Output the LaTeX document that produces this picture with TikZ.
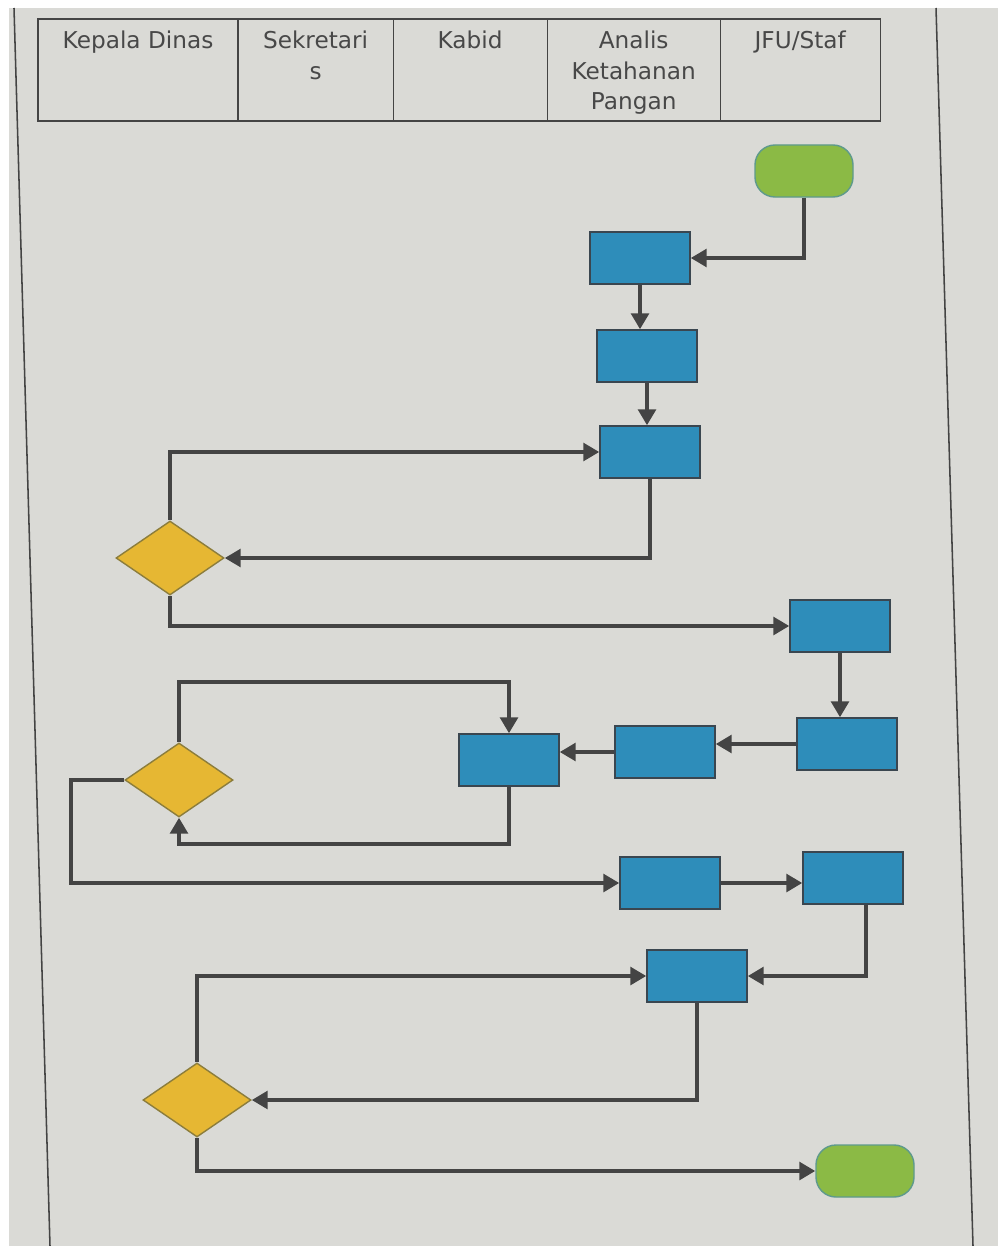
\documentclass[tikz,border=0pt]{standalone}
\usepackage{fontspec}
\setmainfont{DejaVu Sans}
\usetikzlibrary{positioning,shapes.geometric,arrows.meta}
\definecolor{kertas}{HTML}{DADAD6}
\definecolor{garis}{HTML}{444444}
\definecolor{biru}{HTML}{2E8DBA}
\definecolor{birutepi}{HTML}{3A4650}
\definecolor{kuning}{HTML}{E6B733}
\definecolor{kuningtepi}{HTML}{8C7D3C}
\definecolor{hijau}{HTML}{8BBA45}
\definecolor{hijautepi}{HTML}{5E9A8C}
\definecolor{teks}{HTML}{484848}
\tikzset{
    lane/.style={draw=garis, line width=0.8pt, rectangle, minimum height=2.55cm, inner sep=0pt, outer sep=0pt},
    lanetext/.style={anchor=north, align=center, text=teks, inner sep=0pt, yshift=-0.28cm, font=\fontsize{16.5}{22}\selectfont},
    proses/.style={draw=birutepi, fill=biru, line width=1pt, minimum width=2.5cm, minimum height=1.3cm, inner sep=0pt},
    keputusan/.style={diamond, draw=kuningtepi, fill=kuning, line width=1pt, minimum width=2.7cm, minimum height=1.85cm, inner sep=0pt},
    terminal/.style={rectangle, rounded corners=0.5cm, draw=hijautepi, fill=hijau, line width=1pt, minimum width=2.45cm, minimum height=1.3cm, inner sep=0pt},
    arr/.style={draw=garis, line width=3pt, -{Triangle[length=0.4cm,width=0.44cm]}},
    tepi/.style={draw=garis, line width=1.1pt}
}
\begin{document}
\begin{tikzpicture}[x=0.025cm, y=-0.025cm]
    \useasboundingbox (0,0) rectangle (998,1246);
    \fill[kertas] (0,0) rectangle (998,1246);
    \fill[white] (0,0) rectangle (998,8);
    \fill[white] (0,0) rectangle (9,1246);
    \draw[tepi] (14,8) -- (50,1246);
    \draw[tepi] (936,8) -- (973,1246);

    % header
    \node[lane, minimum width=5cm, anchor=north west] (kadis) at (38,19) {};
    \node[lane, minimum width=3.875cm, right=0pt of kadis] (sekre) {};
    \node[lane, minimum width=3.85cm, right=0pt of sekre] (kabid) {};
    \node[lane, minimum width=4.325cm, right=0pt of kabid] (analis) {};
    \node[lane, minimum width=4cm, right=0pt of analis] (jfu) {};
    \node[lanetext] (tkadis) at (kadis.north) {Kepala Dinas};
    \node[lanetext] (tsekre) at (sekre.north) {Sekretari\\s};
    \node[lanetext] (tkabid) at (kabid.north) {Kabid};
    \node[lanetext] (tanalis) at (analis.north) {Analis\\Ketahanan\\Pangan};
    \node[lanetext] (tjfu) at (jfu.north) {JFU/Staf};

    % flow
    \node[terminal] (mulai) at (804,171) {};
    \node[proses] (p1) at (640,258) {};
    \node[proses] (p2) at (647,356) {};
    \node[proses] (p3) at (650,452) {};
    \node[keputusan] (k1) at (170,558) {};
    \node[proses] (p4) at (840,626) {};
    \node[proses] (p5) at (847,744) {};
    \node[proses] (p6) at (665,752) {};
    \node[proses] (p7) at (509,760) {};
    \node[keputusan] (k2) at (179,780) {};
    \node[proses] (p8) at (670,883) {};
    \node[proses] (p9) at (853,878) {};
    \node[proses] (p10) at (697,976) {};
    \node[keputusan] (k3) at (197,1100) {};
    \node[terminal] (selesai) at (865,1171) {};

    \draw[arr] (mulai.south) |- (p1.east);
    \draw[arr] (p1.south) -- (p1.south |- p2.north);
    \draw[arr] (p2.south) -- (p2.south |- p3.north);
    \draw[arr] (k1.north) |- (p3.west);
    \draw[arr] (p3.south) |- (k1.east);
    \draw[arr] (k1.south) |- (p4.west);
    \draw[arr] (p4.south) -- (p4.south |- p5.north);
    \draw[arr] (p5.west) -- (p5.west -| p6.east);
    \draw[arr] (p6.west) -- (p6.west -| p7.east);
    \draw[arr] (k2.north) -- ++(0,-60) -| (p7.north);
    \draw[arr] (p7.south) -- ++(0,57) -| (k2.south);
    \draw[arr] (k2.west) -- ++(-53,0) |- (p8.west);
    \draw[arr] (p8.east) -- (p8.east -| p9.west);
    \draw[arr] ([xshift=0.33cm]p9.south) |- (p10.east);
    \draw[arr] (k3.north) |- (p10.west);
    \draw[arr] (p10.south) |- (k3.east);
    \draw[arr] (k3.south) |- (selesai.west);
\end{tikzpicture}
\end{document}
